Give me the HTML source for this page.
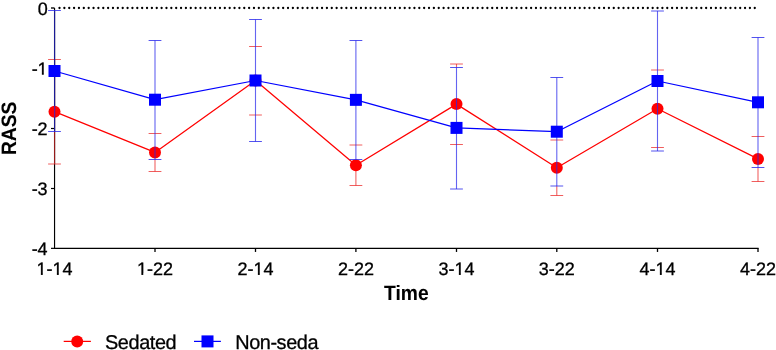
<!DOCTYPE html><html><head><meta charset="utf-8"><title>RASS over time</title><style>html,body{margin:0;padding:0;background:#fff;}svg{display:block;will-change:transform;}text{font-family:"Liberation Sans",sans-serif;fill:#000;text-rendering:geometricPrecision;stroke:#000;stroke-width:0.3px;}</style></head><body>
<svg width="776" height="350" viewBox="0 0 776 350">
<line x1="59.5" y1="8.0" x2="755.5" y2="8.0" stroke="#000" stroke-width="2.3" stroke-linecap="round" stroke-dasharray="0 4.862"/>
<path d="M54.55 8 V248.35 H758.6" fill="none" stroke="#000" stroke-width="1.15"/>
<line x1="51" y1="8.0" x2="54.55" y2="8.0" stroke="#000" stroke-width="1.35"/>
<line x1="51" y1="68.5" x2="54.55" y2="68.5" stroke="#000" stroke-width="1.2"/>
<line x1="51" y1="128.5" x2="54.55" y2="128.5" stroke="#000" stroke-width="1.2"/>
<line x1="51" y1="188.5" x2="54.55" y2="188.5" stroke="#000" stroke-width="1.2"/>
<line x1="51" y1="248.35" x2="54.55" y2="248.35" stroke="#000" stroke-width="1.2"/>
<line x1="155.00" y1="248.35" x2="155.00" y2="251.95" stroke="#000" stroke-width="1.3"/>
<line x1="255.50" y1="248.35" x2="255.50" y2="251.95" stroke="#000" stroke-width="1.3"/>
<line x1="355.90" y1="248.35" x2="355.90" y2="251.95" stroke="#000" stroke-width="1.3"/>
<line x1="456.50" y1="248.35" x2="456.50" y2="251.95" stroke="#000" stroke-width="1.3"/>
<line x1="556.80" y1="248.35" x2="556.80" y2="251.95" stroke="#000" stroke-width="1.3"/>
<line x1="657.50" y1="248.35" x2="657.50" y2="251.95" stroke="#000" stroke-width="1.3"/>
<line x1="758.00" y1="248.35" x2="758.00" y2="251.95" stroke="#000" stroke-width="1.3"/>
<polyline fill="none" stroke="#ff0000" stroke-width="1.25" stroke-linejoin="round" points="54.50,111.70 155.00,152.40 255.50,80.50 355.90,165.20 456.50,104.10 556.80,167.80 657.50,108.80 758.00,158.90"/>
<g stroke="#eb2828" stroke-opacity="0.72" fill="none">
<line x1="155.0" y1="159.5" x2="155.0" y2="171.5" stroke-width="1.1"/>
<line x1="148.60" y1="133.5" x2="161.40" y2="133.5" stroke-width="1" stroke-opacity="0.75"/>
<line x1="148.60" y1="171.5" x2="161.40" y2="171.5" stroke-width="1" stroke-opacity="0.75"/>
<line x1="249.10" y1="46.5" x2="261.90" y2="46.5" stroke-width="1" stroke-opacity="0.75"/>
<line x1="249.10" y1="115.0" x2="261.90" y2="115.0" stroke-width="1" stroke-opacity="0.75"/>
<line x1="355.9" y1="159.5" x2="355.9" y2="185.5" stroke-width="1.1"/>
<line x1="349.50" y1="145.0" x2="362.30" y2="145.0" stroke-width="1" stroke-opacity="0.75"/>
<line x1="349.50" y1="185.5" x2="362.30" y2="185.5" stroke-width="1" stroke-opacity="0.75"/>
<line x1="456.5" y1="64.0" x2="456.5" y2="67.5" stroke-width="1.1"/>
<line x1="450.10" y1="64.0" x2="462.90" y2="64.0" stroke-width="1" stroke-opacity="0.75"/>
<line x1="450.10" y1="144.5" x2="462.90" y2="144.5" stroke-width="1" stroke-opacity="0.75"/>
<line x1="556.8" y1="186.0" x2="556.8" y2="195.5" stroke-width="1.1"/>
<line x1="550.40" y1="140.0" x2="563.20" y2="140.0" stroke-width="1" stroke-opacity="0.75"/>
<line x1="550.40" y1="195.5" x2="563.20" y2="195.5" stroke-width="1" stroke-opacity="0.75"/>
<line x1="651.10" y1="70.0" x2="663.90" y2="70.0" stroke-width="1" stroke-opacity="0.75"/>
<line x1="651.10" y1="147.5" x2="663.90" y2="147.5" stroke-width="1" stroke-opacity="0.75"/>
<line x1="758.0" y1="167.5" x2="758.0" y2="181.5" stroke-width="1.1"/>
<line x1="751.60" y1="136.5" x2="764.40" y2="136.5" stroke-width="1" stroke-opacity="0.75"/>
<line x1="751.60" y1="181.5" x2="764.40" y2="181.5" stroke-width="1" stroke-opacity="0.75"/>
</g>
<line x1="54.55" y1="59.5" x2="54.55" y2="164.0" stroke="#961a1a" stroke-width="1.15"/>
<line x1="48.10" y1="59.5" x2="60.90" y2="59.5" stroke="#eb2828" stroke-opacity="0.75" stroke-width="1"/>
<line x1="48.10" y1="164.0" x2="60.90" y2="164.0" stroke="#eb2828" stroke-opacity="0.75" stroke-width="1"/>
<circle cx="54.50" cy="111.70" r="6" fill="#ff0000"/>
<circle cx="155.00" cy="152.40" r="6" fill="#ff0000"/>
<circle cx="255.50" cy="80.50" r="6" fill="#ff0000"/>
<circle cx="355.90" cy="165.20" r="6" fill="#ff0000"/>
<circle cx="456.50" cy="104.10" r="6" fill="#ff0000"/>
<circle cx="556.80" cy="167.80" r="6" fill="#ff0000"/>
<circle cx="657.50" cy="108.80" r="6" fill="#ff0000"/>
<circle cx="758.00" cy="158.90" r="6" fill="#ff0000"/>
<polyline fill="none" stroke="#0000ff" stroke-width="1.25" stroke-linejoin="round" points="54.50,71.00 155.00,99.70 255.50,80.50 355.90,99.85 456.50,127.90 556.80,131.70 657.50,81.00 758.00,102.30"/>
<g stroke="#2828eb" stroke-opacity="0.72" fill="none">
<line x1="155.0" y1="40.5" x2="155.0" y2="159.5" stroke-width="1.1"/>
<line x1="148.60" y1="40.5" x2="161.40" y2="40.5" stroke-width="1" stroke-opacity="0.8"/>
<line x1="148.60" y1="159.5" x2="161.40" y2="159.5" stroke-width="1" stroke-opacity="0.8"/>
<line x1="255.5" y1="19.5" x2="255.5" y2="141.5" stroke-width="1.1"/>
<line x1="249.10" y1="19.5" x2="261.90" y2="19.5" stroke-width="1" stroke-opacity="0.8"/>
<line x1="249.10" y1="141.5" x2="261.90" y2="141.5" stroke-width="1" stroke-opacity="0.8"/>
<line x1="355.9" y1="40.5" x2="355.9" y2="159.5" stroke-width="1.1"/>
<line x1="349.50" y1="40.5" x2="362.30" y2="40.5" stroke-width="1" stroke-opacity="0.8"/>
<line x1="349.50" y1="159.5" x2="362.30" y2="159.5" stroke-width="1" stroke-opacity="0.8"/>
<line x1="456.5" y1="67.5" x2="456.5" y2="189.0" stroke-width="1.1"/>
<line x1="450.10" y1="67.5" x2="462.90" y2="67.5" stroke-width="1" stroke-opacity="0.8"/>
<line x1="450.10" y1="189.0" x2="462.90" y2="189.0" stroke-width="1" stroke-opacity="0.8"/>
<line x1="556.8" y1="77.5" x2="556.8" y2="186.0" stroke-width="1.1"/>
<line x1="550.40" y1="77.5" x2="563.20" y2="77.5" stroke-width="1" stroke-opacity="0.8"/>
<line x1="550.40" y1="186.0" x2="563.20" y2="186.0" stroke-width="1" stroke-opacity="0.8"/>
<line x1="657.5" y1="11.0" x2="657.5" y2="151.0" stroke-width="1.1"/>
<line x1="651.10" y1="11.0" x2="663.90" y2="11.0" stroke-width="1" stroke-opacity="0.8"/>
<line x1="651.10" y1="151.0" x2="663.90" y2="151.0" stroke-width="1" stroke-opacity="0.8"/>
<line x1="758.0" y1="37.5" x2="758.0" y2="167.5" stroke-width="1.1"/>
<line x1="751.60" y1="37.5" x2="764.40" y2="37.5" stroke-width="1" stroke-opacity="0.8"/>
<line x1="751.60" y1="167.5" x2="764.40" y2="167.5" stroke-width="1" stroke-opacity="0.8"/>
</g>
<line x1="54.55" y1="10.5" x2="54.55" y2="131.5" stroke="#1a1a96" stroke-width="1.15"/>
<line x1="48.10" y1="10.5" x2="60.90" y2="10.5" stroke="#2828eb" stroke-opacity="0.8" stroke-width="1"/>
<line x1="48.10" y1="131.5" x2="60.90" y2="131.5" stroke="#2828eb" stroke-opacity="0.8" stroke-width="1"/>
<rect x="48.50" y="65.00" width="12" height="12" fill="#0000ff"/>
<rect x="149.00" y="93.70" width="12" height="12" fill="#0000ff"/>
<rect x="249.50" y="74.50" width="12" height="12" fill="#0000ff"/>
<rect x="349.90" y="93.85" width="12" height="12" fill="#0000ff"/>
<rect x="450.50" y="121.90" width="12" height="12" fill="#0000ff"/>
<rect x="550.80" y="125.70" width="12" height="12" fill="#0000ff"/>
<rect x="651.50" y="75.00" width="12" height="12" fill="#0000ff"/>
<rect x="752.00" y="96.30" width="12" height="12" fill="#0000ff"/>
<line x1="54.55" y1="106.10" x2="54.55" y2="117.30" stroke="#6a1a9a" stroke-width="1.15"/>
<text x="47.65" y="14.6" font-size="18" text-anchor="end">0</text>
<text x="47.65" y="74.6" font-size="18" text-anchor="end">-1</text>
<text x="47.65" y="134.6" font-size="18" text-anchor="end">-2</text>
<text x="47.65" y="194.6" font-size="18" text-anchor="end">-3</text>
<text x="47.65" y="254.6" font-size="18" text-anchor="end">-4</text>
<text x="54.50" y="274.8" font-size="18" text-anchor="middle">1-14</text>
<text x="155.00" y="274.8" font-size="18" text-anchor="middle">1-22</text>
<text x="255.50" y="274.8" font-size="18" text-anchor="middle">2-14</text>
<text x="355.90" y="274.8" font-size="18" text-anchor="middle">2-22</text>
<text x="456.50" y="274.8" font-size="18" text-anchor="middle">3-14</text>
<text x="556.80" y="274.8" font-size="18" text-anchor="middle">3-22</text>
<text x="657.50" y="274.8" font-size="18" text-anchor="middle">4-14</text>
<text x="758.00" y="274.8" font-size="18" text-anchor="middle">4-22</text>
<rect x="38" y="73" width="9" height="3" fill="#fff"/>
<rect x="41.876" y="73" width="1.891" height="1.75" fill="#000"/>
<rect x="37" y="273" width="9" height="3" fill="#fff"/>
<rect x="40.876" y="273" width="1.891" height="1.95" fill="#000"/>
<rect x="53" y="273" width="9" height="3" fill="#fff"/>
<rect x="56.876" y="273" width="1.891" height="1.95" fill="#000"/>
<rect x="138" y="273" width="9" height="3" fill="#fff"/>
<rect x="141.376" y="273" width="1.891" height="1.95" fill="#000"/>
<rect x="254" y="273" width="9" height="3" fill="#fff"/>
<rect x="257.876" y="273" width="1.891" height="1.95" fill="#000"/>
<rect x="455" y="273" width="9" height="3" fill="#fff"/>
<rect x="458.876" y="273" width="1.891" height="1.95" fill="#000"/>
<rect x="656" y="273" width="9" height="3" fill="#fff"/>
<rect x="659.876" y="273" width="1.891" height="1.95" fill="#000"/>
<text transform="translate(406.3,300.4) scale(0.925,1)" font-size="20.8" font-weight="bold" style="stroke-width:0.1px" text-anchor="middle">Time</text>
<text transform="translate(15.9,128.3) rotate(-90) scale(0.925,1)" font-size="20.8" font-weight="bold" style="stroke-width:0.1px" text-anchor="middle">RASS</text>
<line x1="63.7" y1="341.4" x2="90.9" y2="341.4" stroke="#ff0000" stroke-width="1.25"/>
<circle cx="77.2" cy="341.4" r="6" fill="#ff0000"/>
<text x="105.0" y="348.7" font-size="19.9" letter-spacing="-0.42">Sedated</text>
<line x1="194" y1="341.4" x2="220.9" y2="341.4" stroke="#0000ff" stroke-width="1.25"/>
<rect x="201.5" y="335.4" width="12" height="12" fill="#0000ff"/>
<text x="235.2" y="348.7" font-size="19.9" letter-spacing="-0.42">Non-seda</text>
</svg></body></html>
